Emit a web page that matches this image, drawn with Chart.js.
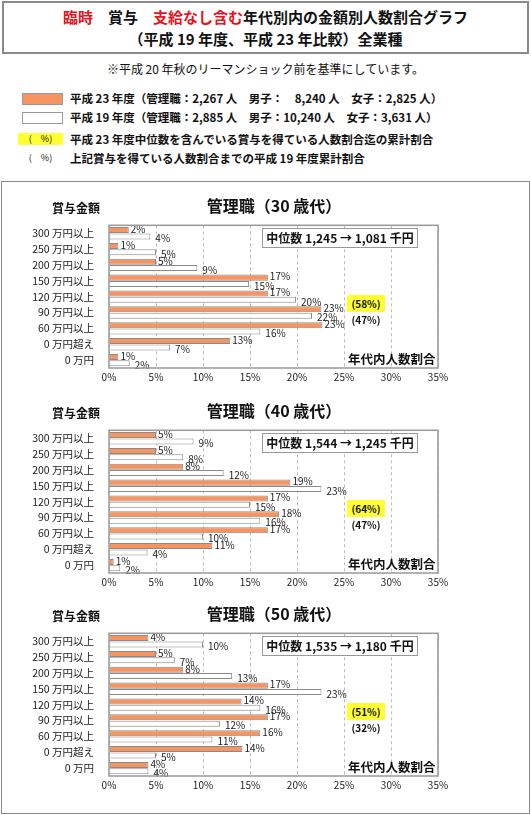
<!DOCTYPE html>
<html><head><meta charset="utf-8">
<script src="https://cdn.jsdelivr.net/npm/chart.js@4/dist/chart.umd.min.js"></script>
<style>
body{margin:0;width:531px;height:815px;position:relative;background:#fff;font-family:"Noto Sans CJK JP","Noto Sans",sans-serif;color:#111;overflow:hidden}
.a{position:absolute;white-space:nowrap}
.b{font-weight:bold}
canvas{position:absolute}
</style></head><body>
<div class="a" style="left:2px;top:1px;width:523px;height:49px;border:2px solid #8a8a8a"></div>
<div class="a b" style="left:0;width:531px;top:7px;text-align:center;font-size:15px;line-height:20px"><span style="color:#e8141c">臨時</span>　賞与　<span style="color:#e8141c">支給なし含む</span>年代別内の金額別人数割合グラフ</div>
<div class="a b" style="left:0;width:531px;top:29px;text-align:center;font-size:15px;line-height:20px">（平成 19 年度、平成 23 年比較）全業種</div>
<div class="a" style="left:0;width:531px;top:61px;text-align:center;font-size:12px;line-height:16px">※平成 20 年秋のリーマンショック前を基準にしています。</div>
<div class="a" style="left:22px;top:93px;width:39px;height:10px;background:#f79460;border:1px solid #999"></div>
<div class="a b" style="left:70px;top:90px;font-size:11.5px;line-height:16px">平成 23 年度（管理職：2,267 人　男子：　8,240 人　女子：2,825 人）</div>
<div class="a" style="left:22px;top:112px;width:39px;height:10px;background:#fff;border:1px solid #999"></div>
<div class="a b" style="left:70px;top:109px;font-size:11.5px;line-height:16px">平成 19 年度（管理職：2,885 人　男子：10,240 人　女子：3,631 人）</div>
<div class="a" style="left:18px;top:133px;width:45px;height:12px;background:#ffff33;font-size:9px;line-height:12px;text-align:center">(　%)</div>
<div class="a b" style="left:70px;top:131px;font-size:11.5px;line-height:16px">平成 23 年度中位数を含んでいる賞与を得ている人数割合迄の累計割合</div>
<div class="a" style="left:18px;top:152px;width:45px;height:12px;font-size:9px;line-height:12px;text-align:center">(　%)</div>
<div class="a b" style="left:70px;top:150px;font-size:11.5px;line-height:16px">上記賞与を得ている人数割合までの平成 19 年度累計割合</div>
<div class="a" style="left:1px;top:181px;width:527px;height:631px;border:1px solid #8a8a8a"></div>
<div id="charts"></div>
<script>
const categories = ["300 万円以上","250 万円以上","200 万円以上","150 万円以上","120 万円以上","90 万円以上","60 万円以上","0 万円超え","0 万円"];
const xTicks = [0,5,10,15,20,25,30,35];
const titles = ["管理職（30 歳代）","管理職（40 歳代）","管理職（50 歳代）"];
const medians = ["中位数 1,245 → 1,081 千円","中位数 1,544 → 1,245 千円","中位数 1,535 → 1,180 千円"];
const cum23 = ["(58%)","(64%)","(51%)"];
const cum19 = ["(47%)","(47%)","(32%)"];
const h23_30 = [2.1,1.0,5.0,16.9,16.9,22.6,22.7,12.9,1.0];
const h19_30 = [4.4,5.0,9.4,14.9,19.9,21.6,16.1,6.5,2.2];
const lab23_30 = [2,1,5,17,17,23,23,13,1];
const lab19_30 = [4,5,9,15,20,22,16,7,2];
const h23_40 = [5.0,5.0,7.9,19.3,16.9,18.1,16.9,11.0,0.5];
const h19_40 = [9.0,7.9,12.2,22.6,15.0,16.1,10.0,4.1,1.2];
const lab23_40 = [5,5,8,19,17,18,17,11,1];
const lab19_40 = [9,8,12,23,15,16,10,4,2];
const h23_50 = [4.2,5.0,7.9,16.9,14.1,16.9,16.1,14.2,4.2];
const h19_50 = [10.0,7.0,13.1,22.6,16.1,11.8,11.0,5.0,4.2];
const lab23_50 = [4,5,8,17,14,17,16,14,4];
const lab19_50 = [10,7,13,23,16,12,11,5,4];

const sets = [[h23_30,h19_30,lab23_30,lab19_30],[h23_40,h19_40,lab23_40,lab19_40],[h23_50,h19_50,lab23_50,lab19_50]];
const offsets = [0,205,408];
const root = document.getElementById('charts');
function div(html, style){const d=document.createElement('div');d.className='a';d.style.cssText=style;d.innerHTML=html;root.appendChild(d);}

const labelPlugin = {id:'lbl',afterDatasetsDraw(c){
  const ctx=c.ctx;ctx.save();ctx.font='10px "Noto Sans CJK JP", sans-serif';ctx.fillStyle='#222';ctx.textBaseline='middle';
  c.data.datasets.forEach((ds,i)=>{c.getDatasetMeta(i).data.forEach((b,j)=>{ctx.fillText(ds.lbl[j]+'%',b.x+2+(i===1?3:0),b.y+(i===0?-1:2));});});
  const a=c.chartArea;ctx.strokeStyle='#999';ctx.lineWidth=1.5;ctx.strokeRect(a.left,a.top,a.right-a.left,a.bottom-a.top);
  ctx.restore();}};

sets.forEach((s,k)=>{
  const o=offsets[k];
  const cv=document.createElement('canvas');cv.style.left='0px';cv.style.top=(212+o)+'px';cv.style.width='531px';cv.style.height='176px';
  cv.width=531;cv.height=176;root.appendChild(cv);
  new Chart(cv,{type:'bar',data:{labels:categories,datasets:[
    {data:s[0],lbl:s[2],backgroundColor:'#f79460',borderColor:'#8a8a8a',borderWidth:1,categoryPercentage:0.8,barPercentage:0.95},
    {data:s[1],lbl:s[3],backgroundColor:'#ffffff',borderColor:'#8a8a8a',borderWidth:1,categoryPercentage:0.8,barPercentage:0.95}]},
   options:{indexAxis:'y',responsive:false,animation:false,devicePixelRatio:1,
    layout:{padding:{top:7,right:93,left:0,bottom:0}},
    plugins:{legend:{display:false},tooltip:{enabled:false}},
    scales:{
     x:{min:0,max:35,afterBuildTicks(ax){ax.ticks=xTicks.map(v=>({value:v}));},
        ticks:{callback:v=>v+'%',font:{size:10,family:'"Noto Sans CJK JP"'},color:'#222',padding:3,maxRotation:0,autoSkip:false},
        grid:{color:'#bbb',drawTicks:false},border:{display:false,dash:[3,3]},
        afterFit(ax){ax.height=20;}},
     y:{ticks:{font:{size:10.5,family:'"Noto Sans CJK JP"'},color:'#222',padding:7,autoSkip:false},
        grid:{display:false},border:{display:false},afterFit(ax){ax.width=109;}}
    }},plugins:[labelPlugin]});
  div('賞与金額','left:52px;top:'+(200+o)+'px;font-size:12px;font-weight:bold;line-height:16px');
  div(titles[k],'left:110px;width:328px;text-align:center;top:'+(195+o)+'px;font-size:16px;font-weight:bold;line-height:20px');
  div(medians[k],'left:262px;top:'+(228+o)+'px;width:154px;height:18px;border:1px solid #999;font-size:12px;font-weight:bold;line-height:18px;text-align:center;background:#fff');
  div(cum23[k],'left:347px;top:'+(295+o)+'px;width:38px;height:17px;background:#ffff33;font-size:10px;font-weight:bold;line-height:17px;text-align:center');
  div(cum19[k],'left:347px;top:'+(312+o)+'px;width:38px;height:15px;font-size:10px;font-weight:bold;line-height:15px;text-align:center');
  div('年代内人数割合','left:348px;top:'+(350+o)+'px;font-size:12.5px;font-weight:bold;line-height:17px');
});
</script>
</body></html>
